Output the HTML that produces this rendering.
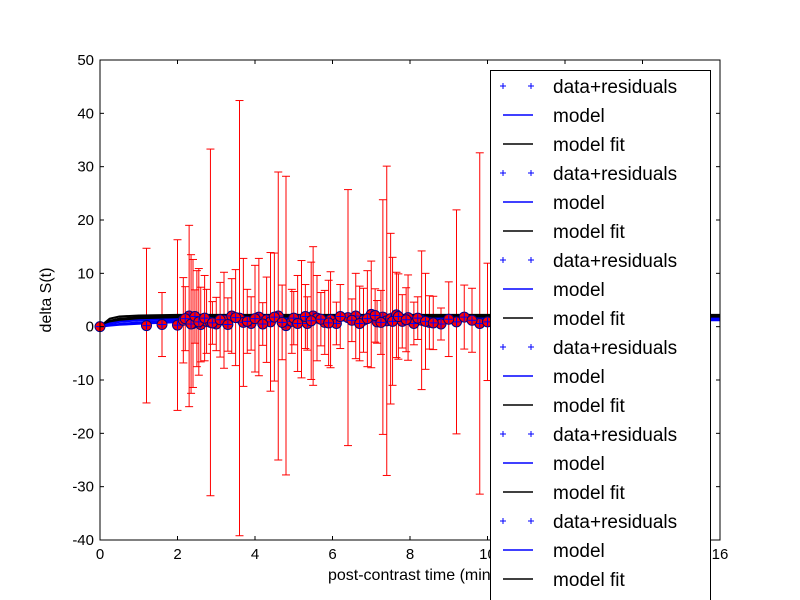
<!DOCTYPE html>
<html><head><meta charset="utf-8"><style>
body{margin:0;background:#fff;}
svg{display:block;font-family:"Liberation Sans","DejaVu Sans",sans-serif;}
</style></head><body>
<svg id="c" width="800" height="600" viewBox="0 0 800 600"></svg>
<script>
const xs=[0,1.2,1.6,2.0,2.15,2.3,2.4,2.5,2.6,2.75,2.85,3.0,3.2,3.4,3.6,3.7,3.9,4.1,4.3,4.4,4.6,4.8,4.95,5.2,5.35,5.5,5.6,5.8,5.95,6.1,6.4,6.6,6.8,7.0,7.15,7.3,7.4,7.5,7.65,7.8,7.95,8.1,8.3,8.5,8.8,9.2,9.4,9.8,10.3,11.0,12.0,
 2.2,2.35,2.45,2.55,2.7,2.9,3.1,3.3,3.5,3.8,4.0,4.2,4.5,4.7,5.0,5.1,5.3,5.45,5.7,5.9,6.2,6.5,6.7,6.9,7.1,7.25,7.55,7.7,7.9,8.2,8.4,8.6,9.0,9.6,10.0];
const ys=[0,0.2,0.4,0.3,1.2,2.0,0.6,1.5,0.4,1.0,0.8,0.5,1.2,2.0,1.6,0.8,0.6,1.8,1.3,0.9,2.0,0.2,1.0,1.4,0.6,2.0,1.6,0.8,1.3,0.6,1.7,2.0,1.2,2.3,0.9,1.8,1.1,1.5,2.2,1.0,1.7,0.6,1.2,0.8,0.5,0.9,1.8,0.6,1.2,1.0,1.5,
 1.5,0.5,1.9,0.9,1.6,0.7,1.3,0.4,1.7,1.0,1.5,0.5,1.8,0.8,1.6,0.6,1.9,1.1,1.4,0.7,1.9,1.2,0.6,1.5,2.1,0.8,1.0,1.9,1.3,1.6,1.0,0.7,1.4,1.2,0.9];
const errs=[0.5,14.5,6,16,8,17,12,9,7,6,32.5,5,9,7,40.8,12,5,11,8,13,27,28,6,11,5,13,8,6,9,4,24,8,6,10,4,22,29,16,8,5,8,4,13,5,3,21,6,32,15,8,10,
 6,13,5,10,8,4,7,5,9,6,10,4,12,7,5,9,6,11,5,8,6,4,7,9,5,6,12,8,6,4,9,5,7,6,11];
const modelT=[0,0.25,0.5,1,2,4,8,12,16];
const modelA=[0,0.6,0.9,1.2,1.4,1.5,1.5,1.5,1.5];
const modelB=[0,0.3,0.5,0.8,1.1,1.3,1.4,1.4,1.4];
const modelC=[0,0.2,0.35,0.55,0.85,1.1,1.2,1.2,1.2];
const fitA=[0,1.5,1.9,2.1,2.2,2.2,2.2,2.2,2.2];
const fitB=[0,1.1,1.5,1.8,2.0,2.0,2.0,2.0,2.0];
const fitC=[0,0.8,1.2,1.5,1.7,1.8,1.8,1.8,1.8];
const xTicks=[0,2,4,6,8,10,12,14,16];
const yTicks=[50,40,30,20,10,0,-10,-20,-30,-40];
const legendLabels=["data+residuals","model","model fit","data+residuals","model","model fit","data+residuals","model","model fit","data+residuals","model","model fit","data+residuals","model","model fit","data+residuals","model","model fit"];

const L=100,R=720,T=60,B=540;
const X=v=>L+(v-0)/16*(R-L);
const Y=v=>T+(50-v)/90*(B-T);
const svg=document.getElementById('c');
const NS='http://www.w3.org/2000/svg';
function mk(tag,at,parent){const e=document.createElementNS(NS,tag);for(const k in at)e.setAttribute(k,at[k]);(parent||svg).appendChild(e);return e;}

const eg=mk('g',{});


xs.forEach((x,i)=>{
  const cx=X(x),t=Y(ys[i]+errs[i]),b=Y(ys[i]-errs[i]);
  const g=mk('g',{stroke:'#f00','stroke-width':1},eg);
  
  
  mk('line',{x1:cx,x2:cx,y1:t,y2:b},g);
  mk('line',{x1:cx-4,x2:cx+4,y1:t,y2:t},g);
  mk('line',{x1:cx-4,x2:cx+4,y1:b,y2:b},g);
});
function curve(arr,color,name){
  const d=modelT.map((t,i)=>(i?'L':'M')+X(t)+','+Y(arr[i])).join(' ');
  const p=mk('path',{d:d,fill:'none',stroke:color,'stroke-width':2});
  
  
}
curve(fitA,'#000','model-fit-curve');curve(fitB,'#000','model-fit-curve');curve(fitC,'#000','model-fit-curve');
curve(modelA,'#00f','model-curve');curve(modelB,'#00f','model-curve');curve(modelC,'#00f','model-curve');
xs.forEach((x,i)=>{
  const cx=X(x),cy=Y(ys[i]);
  const g=mk('g',{});
  
  
  mk('circle',{cx:cx,cy:cy,r:5,fill:'#f00',stroke:'#00008b','stroke-width':1},g);
  mk('path',{d:`M${cx-4},${cy}H${cx+4}M${cx},${cy-4}V${cy+4}`,stroke:'#00f','stroke-width':1},g);
});
const fr=mk('rect',{x:L,y:T,width:R-L,height:B-T,fill:'none',stroke:'#000','stroke-width':1});


xTicks.forEach(v=>{
  const x=X(v);
  mk('line',{x1:x,x2:x,y1:B,y2:B-4,stroke:'#000'});
  mk('line',{x1:x,x2:x,y1:T,y2:T+4,stroke:'#000'});
  const t=mk('text',{x:x,y:B+19,'text-anchor':'middle','font-size':15});
  t.textContent=v;
  
  
});
yTicks.forEach(v=>{
  const y=Y(v);
  mk('line',{x1:L,x2:L+4,y1:y,y2:y,stroke:'#000'});
  mk('line',{x1:R,x2:R-4,y1:y,y2:y,stroke:'#000'});
  const t=mk('text',{x:L-6,y:y+5,'text-anchor':'end','font-size':15});
  t.textContent=v;
  
  
});
const xl=mk('text',{x:412,y:580,'text-anchor':'middle','font-size':16});
xl.textContent='post-contrast time (min)';


const yl=mk('text',{x:0,y:0,'text-anchor':'middle','font-size':16,transform:'translate(51,300) rotate(-90)'});
yl.textContent='delta S(t)';


const lg=mk('g',{});


mk('rect',{x:490.5,y:70.5,width:220,height:540,fill:'#fff',stroke:'#000','stroke-width':1},lg);
legendLabels.forEach((lab,i)=>{
  const y=86+i*29;
  const e=mk('g',{},lg);
  
  
  if(lab==='data+residuals'){
    mk('path',{d:`M${500},${y}h6M${503},${y-3}v6M${528},${y}h6M${531},${y-3}v6`,stroke:'#00f','stroke-width':1},e);
  }else{
    mk('line',{x1:503,x2:533,y1:y,y2:y,stroke:lab==='model'?'#00f':'#000','stroke-width':1.5},e);
  }
  const t=mk('text',{x:553,y:y+7,'font-size':19},e);
  t.textContent=lab;
});
</script>
</body></html>
